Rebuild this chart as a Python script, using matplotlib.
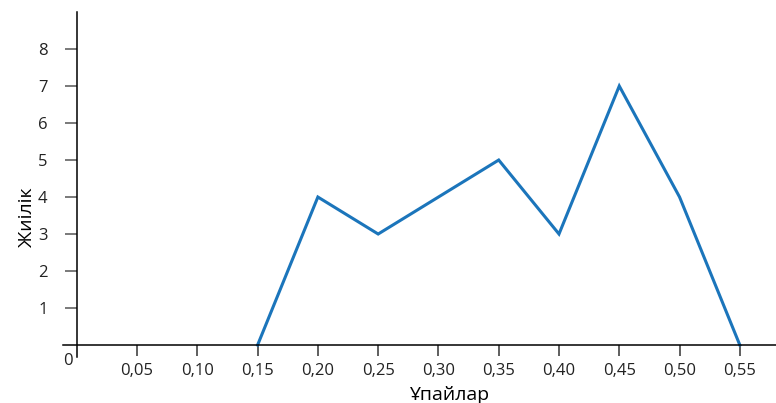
import matplotlib.pyplot as plt

plt.rcParams['font.family'] = ['Open Sans', 'DejaVu Sans']

# Scores and their frequencies
scores = [0.15, 0.20, 0.25, 0.30, 0.35, 0.40, 0.45, 0.50, 0.55]
freq = [0, 4, 3, 4, 5, 3, 7, 4, 0]

x_ticks = [0.05, 0.10, 0.15, 0.20, 0.25, 0.30, 0.35, 0.40, 0.45, 0.50, 0.55]
x_labels = ["0,05", "0,10", "0,15", "0,20", "0,25", "0,30", "0,35", "0,40", "0,45", "0,50", "0,55"]
y_ticks = [1, 2, 3, 4, 5, 6, 7, 8]

fig = plt.figure(figsize=(7.76, 4.03), dpi=100)
ax = fig.add_axes([0.0812, 0.1141, 0.9188, 0.8561])

ax.plot(scores, freq, color='#1b75bb', linewidth=2.2, solid_joinstyle='miter', clip_on=False)

ax.set_xlim(-0.0114, 0.58)
ax.set_ylim(-0.324, 9.0)

for s in ['top', 'right']:
    ax.spines[s].set_visible(False)
ax.spines['left'].set_position(('data', 0))
ax.spines['bottom'].set_position(('data', 0))
ax.spines['left'].set_linewidth(1.1)
ax.spines['bottom'].set_linewidth(1.1)

ax.set_xticks(x_ticks)
ax.set_xticklabels(x_labels)
ax.set_yticks(y_ticks)
ax.set_yticklabels([str(v) for v in y_ticks])

ax.tick_params(axis='x', direction='out', length=8, width=1.1, color='#333333',
               labelsize=12, pad=5, labelcolor='#222222')
ax.tick_params(axis='y', direction='out', length=9, width=1.1, color='#555555',
               labelsize=12, pad=12, labelcolor='#222222')

ax.text(-0.0075, -0.42, "0", ha='center', va='center', fontsize=12, color='#222222')

fig.text(0.035, 0.46, "Жиілік", rotation=90, ha='center', va='center', fontsize=14)
fig.text(0.58, 0.02, "Ұпайлар", ha='center', va='center', fontsize=14)

fig.savefig("out.png", dpi=100)
